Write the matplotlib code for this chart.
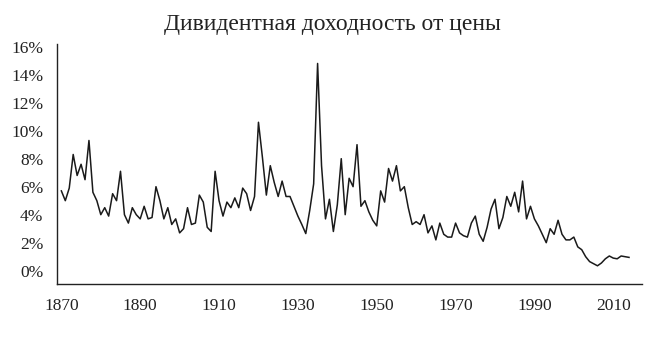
import matplotlib
matplotlib.use("Agg")
import matplotlib.pyplot as plt
from matplotlib.ticker import PercentFormatter, FixedLocator

# dividend yield, % of price, one value per year
values = [
    5.7, 5.0, 5.9, 8.3, 6.8, 7.6, 6.5, 9.3, 5.6, 5.0,      # 1870s
    4.0, 4.5, 3.9, 5.5, 5.0, 7.1, 4.0, 3.4, 4.5, 4.0,      # 1880s
    3.7, 4.6, 3.7, 3.8, 6.0, 5.0, 3.7, 4.5, 3.3, 3.7,      # 1890s
    2.7, 3.0, 4.5, 3.3, 3.4, 5.4, 4.9, 3.1, 2.8, 7.1,      # 1900s
    5.0, 3.9, 4.9, 4.5, 5.2, 4.5, 5.9, 5.5, 4.3, 5.3,      # 1910s
    10.6, 8.1, 5.4, 7.5, 6.3, 5.3, 6.4, 5.3, 5.3, 4.6,     # 1920s
    3.9, 3.3, 2.65, 4.3, 6.2, 14.8, 7.5, 3.7, 5.1, 2.8,    # 1930s
    4.7, 8.0, 4.0, 6.6, 6.0, 9.0, 4.6, 5.0, 4.2, 3.6,      # 1940s
    3.2, 5.7, 4.9, 7.3, 6.4, 7.5, 5.7, 6.0, 4.5, 3.3,      # 1950s
    3.5, 3.3, 4.0, 2.7, 3.2, 2.2, 3.4, 2.6, 2.4, 2.4,      # 1960s
    3.4, 2.7, 2.5, 2.4, 3.4, 3.9, 2.6, 2.1, 3.1, 4.4,      # 1970s
    5.1, 3.0, 3.8, 5.3, 4.6, 5.6, 4.2, 6.4, 3.7, 4.6,      # 1980s
    3.7, 3.2, 2.6, 2.0, 3.0, 2.6, 3.6, 2.6, 2.2, 2.2,      # 1990s
    2.4, 1.7, 1.5, 1.0, 0.65, 0.5, 0.35, 0.55, 0.85, 1.05, # 2000s
    0.9, 0.85, 1.05, 1.0, 0.95,                            # 2010s
]
years = list(range(1870, 1870 + len(values)))

year_ticks = [1870, 1890, 1910, 1930, 1950, 1970, 1990, 2010]
pct_ticks = [0, 2, 4, 6, 8, 10, 12, 14, 16]
title = "Дивидентная доходность от цены"

plt.rcParams['font.family'] = ['Liberation Serif', 'DejaVu Serif']

fig = plt.figure(figsize=(6.54, 3.52), dpi=100)
ax = fig.add_axes([0.0872, 0.1932, 0.8945, 0.6818])

ax.plot(years, values, color='#1a1a1a', linewidth=1.1)

ax.set_xlim(1868.9, 2017.3)
ax.set_ylim(-0.95, 16.19)
ax.xaxis.set_major_locator(FixedLocator(year_ticks))
ax.yaxis.set_major_locator(FixedLocator(pct_ticks))
ax.yaxis.set_major_formatter(PercentFormatter(xmax=100, decimals=0))

for side in ['top', 'right']:
    ax.spines[side].set_visible(False)
for side in ['left', 'bottom']:
    ax.spines[side].set_linewidth(1.0)
    ax.spines[side].set_color('#222222')

ax.tick_params(axis='both', length=0, labelsize=12.5, colors='#222222')
ax.tick_params(axis='y', pad=10)
ax.tick_params(axis='x', pad=10)

fig.text(0.508, 0.93, title, ha='center', va='center', fontsize=17, color='#222222')

fig.savefig('out.png', dpi=100)
